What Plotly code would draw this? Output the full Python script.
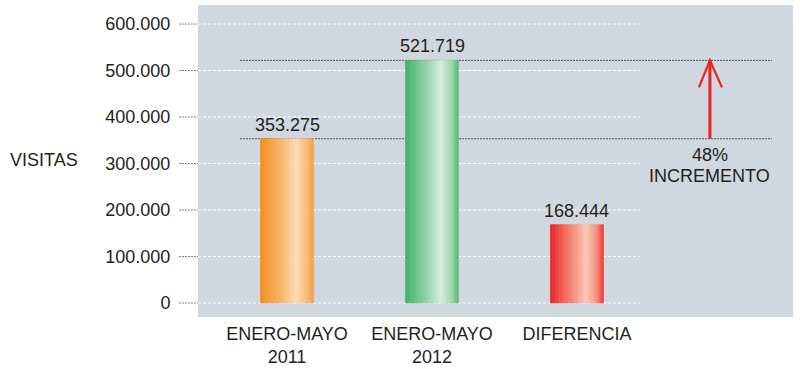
import plotly.graph_objects as go

# ---- data ----
categories = ["ENERO-MAYO<br>2011", "ENERO-MAYO<br>2012", "DIFERENCIA"]
visitas = [353275, 521719, 168444]
y_ticks = [0, 100000, 200000, 300000, 400000, 500000, 600000]
y_title = "VISITAS"
increment_label = "INCREMENTO"

def fmt(v):
    return f"{v:,}".replace(",", ".")

# ---- style ----
FONT = "Liberation Sans, Arial, Helvetica, sans-serif"
TXT = "#231f20"
BG = "#d0d7de"
gradients = [
    [(0, "#f68d1c"), (0.35, "#f9b061"), (0.68, "#fedcb6"), (0.88, "#fbbb78"), (1, "#f59f45")],
    [(0, "#3cb266"), (0.35, "#86cf9c"), (0.68, "#d8efdf"), (0.88, "#9cd6ad"), (1, "#57bb79")],
    [(0, "#ec2126"), (0.35, "#f37a68"), (0.68, "#fcc9b7"), (0.88, "#f68f7c"), (1, "#ee372e")],
]

def hex2rgb(h):
    h = h.lstrip("#")
    return tuple(int(h[i:i + 2], 16) for i in (0, 2, 4))

def interp(stops, t):
    for (p0, c0), (p1, c1) in zip(stops[:-1], stops[1:]):
        if p0 <= t <= p1:
            f = (t - p0) / (p1 - p0) if p1 > p0 else 0
            a, b = hex2rgb(c0), hex2rgb(c1)
            r = [round(a[k] + (b[k] - a[k]) * f) for k in range(3)]
            return f"rgb({r[0]},{r[1]},{r[2]})"
    return stops[-1][1]

BAR_W = 0.366
N = 30
fig = go.Figure()
for i in range(N):
    t = (i + 0.5) / N
    cols = [interp(g, t) for g in gradients]
    fig.add_trace(go.Bar(
        x=categories, y=visitas,
        width=BAR_W / N, offset=-BAR_W / 2 + i * BAR_W / N,
        marker=dict(color=cols, line=dict(color=cols, width=0.6)),
        hoverinfo="skip", showlegend=False,
    ))

X0, X1 = -0.614, 3.49
shapes = []
# white dashed gridlines (partial width) and gray dotted tick leaders
for v in y_ticks:
    shapes.append(dict(type="line", xref="x", yref="y", x0=X0, x1=2.43, y0=v, y1=v,
                       line=dict(color="white", width=1, dash="3px,2px"), layer="below"))
    shapes.append(dict(type="line", xref="paper", yref="y", x0=-0.032, x1=0, y0=v, y1=v,
                       line=dict(color="#808080", width=1, dash="2px,1px")))
# reference lines at the two period values
for v in visitas[:2]:
    shapes.append(dict(type="line", xref="x", yref="y", x0=-0.324, x1=3.345, y0=v, y1=v,
                       line=dict(color="#555555", width=1, dash="2px,1px"), layer="below"))
# red arrow
AX = 2.917
red = "#e8202a"
lo, hi = visitas[0], visitas[1]
shapes.append(dict(type="line", xref="x", yref="y", x0=AX, x1=AX, y0=lo, y1=hi,
                   line=dict(color=red, width=3)))
shapes.append(dict(type="path", xref="x", yref="y",
                   path=f"M {AX-0.076},{hi-58000} L {AX},{hi} L {AX+0.083},{hi-58000}",
                   line=dict(color=red, width=2.2)))

annotations = []
for c, v in zip(categories, visitas):
    annotations.append(dict(x=c, y=v, xref="x", yref="y", text=fmt(v), showarrow=False,
                            yanchor="bottom", yshift=2, font=dict(size=18, color=TXT, family=FONT)))
pct = round((visitas[1] - visitas[0]) / visitas[0] * 100)
annotations.append(dict(x=AX, y=lo, xref="x", yref="y", text=f"{pct}%", showarrow=False,
                        yanchor="top", yshift=-4, font=dict(size=18, color=TXT, family=FONT)))
annotations.append(dict(x=AX, y=lo, xref="x", yref="y", text=increment_label, showarrow=False,
                        yanchor="top", yshift=-25, font=dict(size=18, color=TXT, family=FONT)))
annotations.append(dict(x=-0.319, y=0.503, xref="paper", yref="paper", text=y_title,
                        showarrow=False, xanchor="left", yanchor="middle",
                        font=dict(size=18, color=TXT, family=FONT)))

fig.update_layout(
    width=800, height=369,
    margin=dict(l=198, r=7, t=5, b=52),
    paper_bgcolor="white", plot_bgcolor=BG,
    barmode="overlay",
    separators=",.",
    font=dict(family=FONT, size=18, color=TXT),
    shapes=shapes, annotations=annotations,
    xaxis=dict(range=[X0, X1], showgrid=False, zeroline=False, showline=False,
               automargin=False,
               ticks="outside", ticklen=0, tickcolor="rgba(0,0,0,0)",
               tickfont=dict(size=18, color=TXT, family=FONT)),
    yaxis=dict(range=[-30100, 640900], tickvals=y_ticks, tickformat=",d",
               showgrid=False, zeroline=False, showline=False, automargin=False,
               ticks="outside", ticklen=23, tickcolor="rgba(0,0,0,0)",
               tickfont=dict(size=18, color=TXT, family=FONT)),
)

fig.write_html("out.html", config={"displayModeBar": False},
               post_script="document.body.style.margin='0';document.body.style.overflow='hidden';")
